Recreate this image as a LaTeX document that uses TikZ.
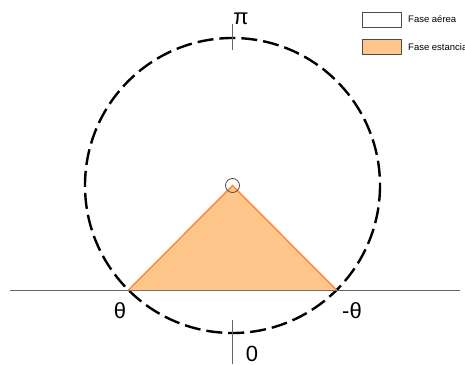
\documentclass[tikz,border=0pt]{standalone}
\usepackage{fontspec}
\setmainfont{Liberation Sans}
\begin{document}
\begin{tikzpicture}[x=1pt,y=-1pt,
  dashcircle/.style={line width=2.4pt,dash pattern=on 16pt off 6pt},
  axis/.style={draw=black!60,line width=0.8pt},
  stance/.style={fill=orange!45!white,draw=orange!80!red!80,line width=1.4pt,line join=miter},
  legbox/.style={draw=black!70,line width=0.7pt,minimum width=39pt,minimum height=15pt,inner sep=0pt},
  legtext/.style={font=\fontsize{9.5}{11}\selectfont,anchor=west,inner sep=0pt},
  biglabel/.style={font=\fontsize{22}{24}\selectfont,inner sep=0pt}]
\useasboundingbox (0,0) rectangle (465,364);
\coordinate (c) at (232.5,185.5);
\coordinate (L) at (128.5,290);
\coordinate (R) at (336.5,290);
\fill[orange!45!white] (L) -- (c) -- (R) -- cycle;
\draw[dashcircle] (c) circle (147.5);
\draw[axis] (10,290) -- (460,290);
\draw[axis] (232.5,24) -- (232.5,50);
\draw[axis] (232.5,320) -- (232.5,364);
\draw[stance] (L) -- (c) -- (R);
\draw[black!70,line width=0.8pt] (c) circle (7);
\node[biglabel] (pi) at (241,19) {π};
\node[biglabel] (zero) at (252,354) {0};
\node[biglabel] (th) at (120,311) {θ};
\node[biglabel] (mth) at (352,311) {-θ};
\node[legbox,fill=white] (b1) at (381.5,19.5) {};
\node[legbox,fill=orange!45!white] (b2) at (381.5,47) {};
\node[legtext] (t1) at (408,19.5) {Fase aérea};
\node[legtext] (t2) at (408,47) {Fase estancia};
\end{tikzpicture}
\end{document}
